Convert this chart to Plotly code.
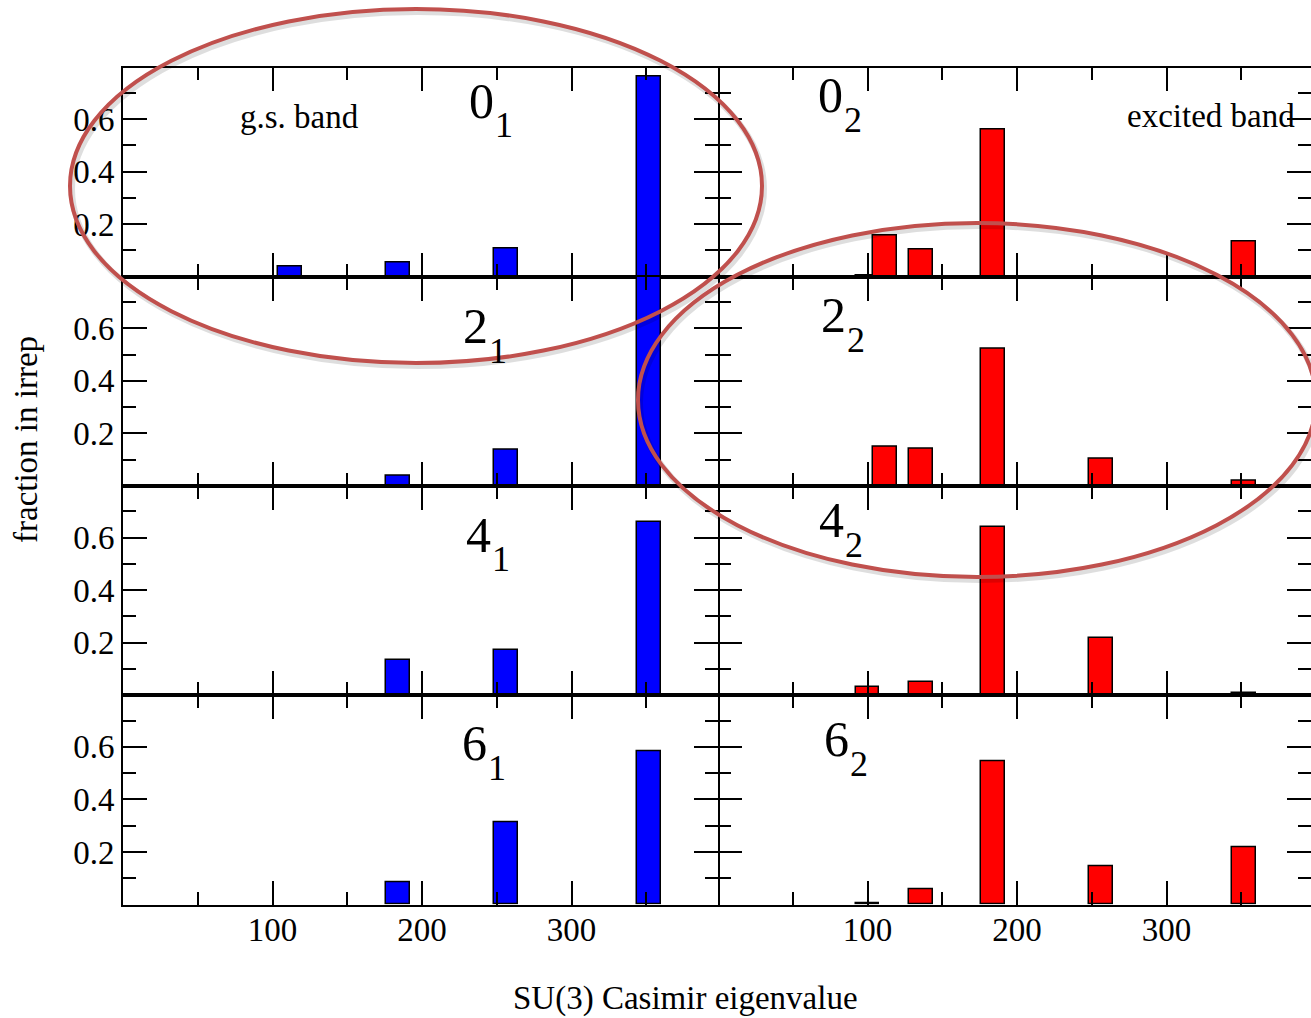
import plotly.graph_objects as go
from plotly.subplots import make_subplots

# SU(3) Casimir eigenvalues carrying the strength
casimir_gs = [112, 184, 256, 352]
casimir_ex = [100, 112, 136, 184, 256, 352]

# ground-state band: fraction of each state in the irreps
frac_0_1 = [0.040, 0.053, 0.108, 0.760]
frac_2_1 = [None, 0.038, 0.139, 0.850]
frac_4_1 = [None, 0.133, 0.171, 0.659]
frac_6_1 = [None, 0.085, 0.313, 0.582]

# excited band
frac_0_2 = [0.003, 0.157, 0.103, 0.560, None, 0.135]
frac_2_2 = [0.003, 0.148, 0.142, 0.522, 0.104, 0.022]
frac_4_2 = [0.032, None, 0.050, 0.640, 0.217, 0.010]
frac_6_2 = [0.005, None, 0.058, 0.544, 0.146, 0.217]

spins = ["0", "2", "4", "6"]
gs_rows = [frac_0_1, frac_2_1, frac_4_1, frac_6_1]
ex_rows = [frac_0_2, frac_2_2, frac_4_2, frac_6_2]

x_ticks = [100, 200, 300]
x_minor = [50, 150, 250, 350]
y_ticks = [0.2, 0.4, 0.6]
y_ticktext = ["0.2", "0.4", "0.6"]
y_minor = [0.1, 0.3, 0.5, 0.7]

W, H = 1311, 1018
FONT = "Liberation Serif"
ELLIPSE = "#C0504D"

def px_x(v):
    return v / W

def px_y(v):
    return 1 - v / H

row_edges = [67.5, 276.7, 486.0, 695.3, 904.6]
col_edges = [(123, 718), (718, W)]
unit_px = 149.5 / 100.0  # pixels per Casimir unit

fig = make_subplots(rows=4, cols=2, horizontal_spacing=0, vertical_spacing=0)

for r in range(4):
    fig.add_trace(go.Bar(x=casimir_gs, y=gs_rows[r], width=16,
                         marker=dict(color="#0000FF", line=dict(color="black", width=1.5)),
                         showlegend=False, hoverinfo="skip"), row=r + 1, col=1)
    fig.add_trace(go.Bar(x=casimir_ex, y=ex_rows[r], width=16,
                         marker=dict(color="#FF0000", line=dict(color="black", width=1.5)),
                         showlegend=False, hoverinfo="skip"), row=r + 1, col=2)

tick_font = dict(family=FONT, size=33, color="black")
for r in range(4):
    for c in range(2):
        idx = r * 2 + c + 1
        xa = "xaxis" if idx == 1 else f"xaxis{idx}"
        ya = "yaxis" if idx == 1 else f"yaxis{idx}"
        x0, x1 = col_edges[c]
        fig.layout[xa].update(
            domain=[px_x(x0), px_x(x1)],
            range=[0, (x1 - x0) / unit_px],
            tickvals=x_ticks, ticktext=[str(v) for v in x_ticks],
            ticks="inside", ticklen=24, tickwidth=1.6, tickcolor="black",
            minor=dict(tickvals=x_minor, ticks="inside", ticklen=13,
                       tickwidth=1.6, tickcolor="black"),
            showline=True, linewidth=1.8, linecolor="black", mirror="allticks",
            showgrid=False, zeroline=False, fixedrange=True,
            showticklabels=(r == 3), tickfont=tick_font, ticklabelstandoff=-5,
        )
        # the right column's outer edge is cut by the page, so only the
        # left column draws the vertical frame lines
        fig.layout[ya].update(
            domain=[px_y(row_edges[r + 1]), px_y(row_edges[r])],
            range=[0, 0.796],
            tickvals=y_ticks, ticktext=y_ticktext,
            ticks="inside", ticklen=24, tickwidth=1.6, tickcolor="black",
            minor=dict(tickvals=y_minor, ticks="inside", ticklen=13,
                       tickwidth=1.6, tickcolor="black"),
            showline=(c == 0), linewidth=1.8, linecolor="black", mirror="allticks",
            showgrid=False, zeroline=False, fixedrange=True,
            showticklabels=(c == 0), tickfont=tick_font,
        )

annotations = []

# state labels J_n: digit left edge, digit baseline, subscript baseline
state_pos = {
    (0, 0): (468, 119, 138), (1, 0): (462, 344, 364),
    (2, 0): (465, 553, 572), (3, 0): (461, 761, 781),
    (0, 1): (817, 113, 133), (1, 1): (820, 333, 353),
    (2, 1): (818, 538, 558), (3, 1): (823, 757, 777),
}
for (r, c), (lx, base, sub_base) in state_pos.items():
    annotations.append(dict(
        x=px_x(lx - 1), y=px_y(base + 12), xref="paper", yref="paper",
        xanchor="left", yanchor="bottom", showarrow=False,
        text=spins[r], font=dict(family=FONT, size=50, color="black"),
    ))
    annotations.append(dict(
        x=px_x(lx + 25), y=px_y(sub_base + 9), xref="paper", yref="paper",
        xanchor="left", yanchor="bottom", showarrow=False,
        text=str(c + 1), font=dict(family=FONT, size=36, color="black"),
    ))

annotations.append(dict(x=px_x(238), y=px_y(117), xref="paper", yref="paper",
                        xanchor="left", yanchor="middle", showarrow=False,
                        text="g.s. band", font=dict(family=FONT, size=33, color="black")))
annotations.append(dict(x=px_x(1297), y=px_y(116), xref="paper", yref="paper",
                        xanchor="right", yanchor="middle", showarrow=False,
                        text="excited band", font=dict(family=FONT, size=33, color="black")))
annotations.append(dict(x=px_x(685), y=px_y(998), xref="paper", yref="paper",
                        xanchor="center", yanchor="middle", showarrow=False,
                        text="SU(3) Casimir eigenvalue",
                        font=dict(family=FONT, size=33, color="black")))
annotations.append(dict(x=px_x(26), y=px_y(440), xref="paper", yref="paper",
                        xanchor="center", yanchor="middle", showarrow=False, textangle=-90,
                        text="fraction in irrep",
                        font=dict(family=FONT, size=33, color="black")))

# two ellipses marking the bands, each with a faint drop shadow
shapes = []
for cx, cy, rx, ry in [(416, 186, 346, 177), (977, 400, 339, 177)]:
    shapes.append(dict(type="circle", xref="paper", yref="paper",
                       x0=px_x(cx - rx + 2), x1=px_x(cx + rx + 2),
                       y0=px_y(cy + ry + 3), y1=px_y(cy - ry + 3),
                       line=dict(color="rgba(0,0,0,0.13)", width=6), layer="above"))
    shapes.append(dict(type="circle", xref="paper", yref="paper",
                       x0=px_x(cx - rx), x1=px_x(cx + rx),
                       y0=px_y(cy + ry), y1=px_y(cy - ry),
                       line=dict(color=ELLIPSE, width=4), layer="above"))

fig.update_layout(
    width=W, height=H,
    margin=dict(l=0, r=0, t=0, b=0),
    paper_bgcolor="white", plot_bgcolor="white",
    annotations=annotations, shapes=shapes,
    bargap=0, hovermode=False,
    font=dict(family=FONT, color="black"),
)

fig.write_html("out.html", config={"displayModeBar": False})
